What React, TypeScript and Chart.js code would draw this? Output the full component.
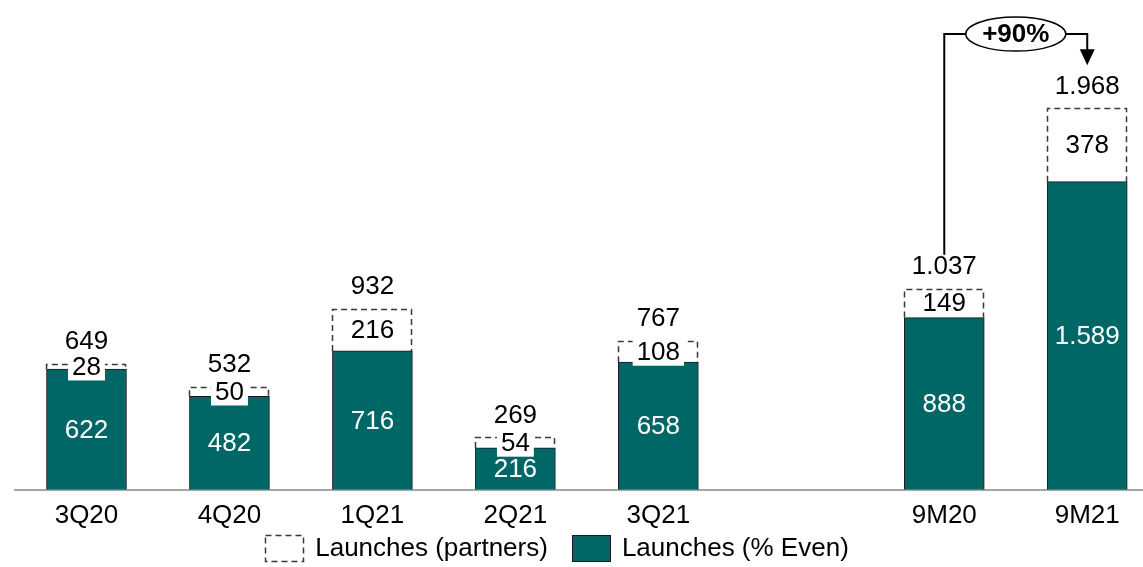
import React, { useEffect, useRef } from 'react';
import { Chart, registerables } from 'chart.js';

Chart.register(...registerables);

// ---- data ----
const categories = ['3Q20', '4Q20', '1Q21', '2Q21', '3Q21', '', '9M20', '9M21'];
const evenLaunches: (number | null)[] = [622, 482, 716, 216, 658, null, 888, 1589];
const partnerLaunches: (number | null)[] = [28, 50, 216, 54, 108, null, 149, 378];
const totalLabels = ['649', '532', '932', '269', '767', '', '1.037', '1.968'];
const evenLabels = ['622', '482', '716', '216', '658', '', '888', '1.589'];
const partnerLabels = ['28', '50', '216', '54', '108', '', '149', '378'];
const legendLabels = ['Launches (partners)', 'Launches (% Even)'];
const growthLabel = '+90%';
const growthFrom = 6;
const growthTo = 7;
const bracketLevel = 2350;

const TEAL = '#016666';
const FONT_FAMILY = '"Liberation Sans", Arial, sans-serif';
const FONT = `26px ${FONT_FAMILY}`;

const toPoints = (arr: (number | null)[]) =>
  arr.map((v, i) => (v === null ? null : { x: i, y: v })).filter((p) => p !== null) as { x: number; y: number }[];

const overlayPlugin = {
  id: 'overlay',
  afterDatasetsDraw(chart: any) {
    const ctx: CanvasRenderingContext2D = chart.ctx;
    const xs = chart.scales.x;
    const ys = chart.scales.y;
    const evenMeta = chart.getDatasetMeta(0);
    const partMeta = chart.getDatasetMeta(1);
    const partData = chart.data.datasets[1].data;
    const evenData = chart.data.datasets[0].data;
    ctx.save();

    // dashed borders of partner segments
    const partTops: Record<number, number> = {};
    partMeta.data.forEach((el: any, j: number) => {
      const p = el.getProps(['x', 'y', 'base', 'width'], true);
      const idx = partData[j].x;
      partTops[idx] = p.y;
      const l = Math.round(p.x - p.width / 2) + 0.5;
      const r = Math.round(p.x + p.width / 2) - 0.5;
      const t = Math.round(p.y) + 0.5;
      ctx.beginPath();
      ctx.setLineDash([6, 4]);
      ctx.lineWidth = 1.5;
      ctx.strokeStyle = '#3a3a3a';
      ctx.moveTo(l, p.base);
      ctx.lineTo(l, t);
      ctx.lineTo(r, t);
      ctx.lineTo(r, p.base);
      ctx.stroke();
    });
    ctx.setLineDash([]);

    ctx.font = FONT;
    ctx.textAlign = 'center';
    ctx.textBaseline = 'middle';

    // even labels
    evenMeta.data.forEach((el: any, j: number) => {
      const p = el.getProps(['x', 'y', 'base'], true);
      const idx = evenData[j].x;
      ctx.fillStyle = '#ffffff';
      ctx.fillText(evenLabels[idx], p.x, (p.y + p.base) / 2 + 1);
    });

    // partner labels
    partMeta.data.forEach((el: any, j: number) => {
      const p = el.getProps(['x', 'y', 'base'], true);
      const idx = partData[j].x;
      const cy = (p.y + p.base) / 2;
      const txt = partnerLabels[idx];
      const w = ctx.measureText(txt).width + 8;
      const h = 28;
      if (p.base - p.y < h) {
        ctx.fillStyle = '#ffffff';
        ctx.fillRect(p.x - w / 2, cy - h / 2, w, h);
      }
      ctx.fillStyle = '#000000';
      ctx.fillText(txt, p.x, cy + 1);
      // total label
      ctx.fillText(totalLabels[idx], p.x, p.y - 22);
    });

    // growth bracket
    const xa = xs.getPixelForValue(growthFrom);
    const xb = xs.getPixelForValue(growthTo);
    const yTop = ys.getPixelForValue(bracketLevel);
    const yStart = partTops[growthFrom] - 34;
    const yTip = partTops[growthTo] - 43;
    const cx = (xa + xb) / 2;
    const rx = 50;
    const ry = 17;
    ctx.strokeStyle = '#000000';
    ctx.lineWidth = 2;
    ctx.beginPath();
    ctx.moveTo(xa, yStart);
    ctx.lineTo(xa, yTop);
    ctx.lineTo(cx - rx, yTop);
    ctx.moveTo(cx + rx, yTop);
    ctx.lineTo(xb, yTop);
    ctx.lineTo(xb, yTip - 15);
    ctx.stroke();
    ctx.fillStyle = '#000000';
    ctx.beginPath();
    ctx.moveTo(xb - 7.5, yTip - 16);
    ctx.lineTo(xb + 7.5, yTip - 16);
    ctx.lineTo(xb, yTip);
    ctx.closePath();
    ctx.fill();
    ctx.beginPath();
    ctx.ellipse(cx, yTop, rx, ry, 0, 0, Math.PI * 2);
    ctx.fillStyle = '#ffffff';
    ctx.fill();
    ctx.lineWidth = 1.5;
    ctx.stroke();
    ctx.fillStyle = '#000000';
    ctx.font = `bold 26px ${FONT_FAMILY}`;
    ctx.fillText(growthLabel, cx, yTop + 1);

    // legend
    ctx.font = FONT;
    const boxW = 38;
    const boxH = 26;
    const gapText = 12;
    const gapItem = 24;
    const w1 = ctx.measureText(legendLabels[0]).width;
    const w2 = ctx.measureText(legendLabels[1]).width;
    const total = boxW + gapText + w1 + gapItem + boxW + gapText + w2;
    const legendCenter = 557;
    const ly = chart.height - 19;
    let lx = legendCenter - total / 2;
    ctx.setLineDash([6, 4]);
    ctx.strokeStyle = '#3a3a3a';
    ctx.lineWidth = 1.5;
    ctx.strokeRect(Math.round(lx) + 0.5, Math.round(ly - boxH / 2) + 0.5, boxW, boxH);
    ctx.setLineDash([]);
    ctx.textAlign = 'left';
    ctx.fillStyle = '#000000';
    ctx.fillText(legendLabels[0], lx + boxW + gapText, ly + 1);
    lx += boxW + gapText + w1 + gapItem;
    ctx.fillStyle = TEAL;
    ctx.fillRect(Math.round(lx), Math.round(ly - boxH / 2), boxW, boxH);
    ctx.strokeStyle = '#1a1a1a';
    ctx.lineWidth = 1;
    ctx.strokeRect(Math.round(lx) + 0.5, Math.round(ly - boxH / 2) + 0.5, boxW, boxH);
    ctx.fillStyle = '#000000';
    ctx.fillText(legendLabels[1], lx + boxW + gapText, ly + 1);

    ctx.restore();
  },
};

export default function App() {
  const canvasRef = useRef<HTMLCanvasElement | null>(null);

  useEffect(() => {
    if (!canvasRef.current) return;
    const chart = new Chart(canvasRef.current, {
      type: 'bar',
      data: {
        datasets: [
          {
            label: legendLabels[1],
            data: toPoints(evenLaunches) as any,
            backgroundColor: TEAL,
            borderColor: '#1a1a1a',
            borderWidth: 1,
            barThickness: 80,
            stack: 's',
          },
          {
            label: legendLabels[0],
            data: toPoints(partnerLaunches) as any,
            backgroundColor: '#ffffff',
            borderWidth: 0,
            barThickness: 80,
            stack: 's',
          },
        ],
      },
      options: {
        animation: false,
        responsive: true,
        maintainAspectRatio: false,
        layout: { padding: { left: 15, right: 0, top: 5, bottom: 26 } },
        plugins: {
          legend: { display: false },
          tooltip: { enabled: false },
        },
        scales: {
          x: {
            type: 'linear',
            offset: false,
            min: -0.5,
            max: 7.39,
            grid: { display: false, drawTicks: false, offset: false },
            border: { display: true, color: '#a6a6a6', width: 2 },
            ticks: {
              stepSize: 1,
              autoSkip: false,
              includeBounds: false,
              maxRotation: 0,
              padding: 10,
              color: '#000000',
              font: { family: FONT_FAMILY, size: 26 },
              callback: (v: any) => (Number.isInteger(v) ? categories[v] ?? '' : ''),
            },
          },
          y: {
            display: false,
            stacked: true,
            min: 0,
            max: 2500,
          },
        },
      },
      plugins: [overlayPlugin],
    });
    return () => chart.destroy();
  }, []);

  return (
    <div style={{ position: 'absolute', left: 0, top: 0, width: 1143, height: 567, background: '#ffffff' }}>
      <canvas ref={canvasRef} />
    </div>
  );
}
